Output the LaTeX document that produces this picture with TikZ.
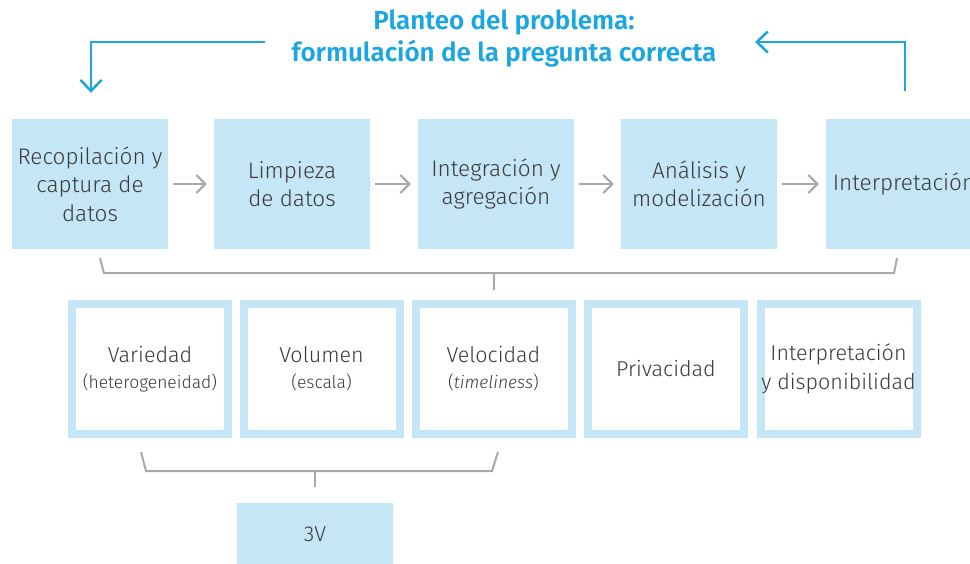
\documentclass[tikz,border=0pt]{standalone}
\usepackage{fontspec}
\setmainfont{Fira Sans Light}
\newfontfamily\titlefont{Fira Sans SemiBold}
\usetikzlibrary{arrows.meta,calc}
\definecolor{boxblue}{HTML}{C4E6F6}
\definecolor{txt}{HTML}{3A3A3A}
\definecolor{lgray}{HTML}{A6A8AB}
\definecolor{cblue}{HTML}{1BA6DF}
\tikzset{
  stepbox/.style={fill=boxblue, minimum width=156pt, minimum height=130pt, inner sep=0pt,
    text=txt, align=center, font=\fontsize{22.5}{28.5}\selectfont},
  vbox/.style={draw=boxblue, line width=8pt, fill=white, minimum width=156pt, minimum height=130pt,
    inner sep=0pt, text=txt, align=center, font=\fontsize{21.5}{29}\selectfont},
  flow/.style={draw=lgray, line width=2pt, -{Straight Barb[length=9pt,width=18pt,line width=2pt]},
    shorten <=5pt, shorten >=7pt},
  brace/.style={draw=lgray, line width=2pt},
  loop/.style={draw=cblue, line width=2.5pt, -{Straight Barb[length=11pt,width=21pt,line width=2.5pt]}}
}
\newcommand\subtxt[1]{{\fontsize{17.5}{17.5}\selectfont #1}}
\begin{document}
\begin{tikzpicture}[x=1pt,y=-1pt]
\clip (0,0) rectangle (970,564);
\fill[white] (0,0) rectangle (970,564);
% title
\node[text=cblue, align=center, font=\titlefont\fontsize{26}{32}\selectfont] (title) at (504,39)
  {Planteo del problema:\\formulación de la pregunta correcta};
% top row
\node[stepbox] (b1) at (90,184) {Recopilación y\\captura de\\datos};
\node[stepbox] (b2) at (292,184) {Limpieza\\de datos};
\node[stepbox] (b3) at (496,184) {Integración y\\agregación};
\node[stepbox] (b4) at (699,184) {Análisis y\\modelización};
\node[stepbox] (b5) at (904,184) {Interpretación};
\draw[flow] (b1) -- (b2);
\draw[flow] (b2) -- (b3);
\draw[flow] (b3) -- (b4);
\draw[flow] (b4) -- (b5);
% loop arrows
\coordinate (Lstart) at (265,42);
\draw[loop] (Lstart) -| ($(b1.north)+(1,-26)$);
\coordinate (Rend) at (755,42);
\draw[loop] ($(b5.north)+(1,-28)$) |- (Rend);
% bottom row
\node[vbox] (v1) at (150,369) {Variedad\\[-3pt]\subtxt{(heterogeneidad)}};
\node[vbox] (v2) at (321.5,369) {Volumen\\[-3pt]\subtxt{(escala)}};
\node[vbox] (v3) at (493.5,369) {Velocidad\\[-3pt]\subtxt{(\textit{timeliness})}};
\node[vbox] (v4) at (666,369) {Privacidad};
\node[vbox] (v5) at (838.5,369) {Interpretación\\y disponibilidad};
% top bracket
\coordinate (tb1) at ($(b1.south)+(10,9)$);
\coordinate (tb2) at ($(b5.south)+(-7,9)$);
\draw[brace] (tb1) -- ($(b1.south)+(14,24)$) -- ($(b5.south)+(-10,24)$) -- (tb2);
\draw[brace] ($(v3.north)+(0,-27)$) -- ($(v3.north)+(0,-10)$);
% 3V
\node[stepbox, minimum height=62pt, font=\fontsize{21.5}{24}\selectfont] (v) at (315,534) {3V};
\draw[brace] ($(v1.south)+(-9,14)$) -- ($(v1.south)+(-4,33)$) -- ($(v3.south)+(-1.5,33)$) -- ($(v3.south)+(4.5,14)$);
\draw[brace] ($(v.north)+(0,-32)$) -- ($(v.north)+(0,-16)$);
\end{tikzpicture}
\end{document}
